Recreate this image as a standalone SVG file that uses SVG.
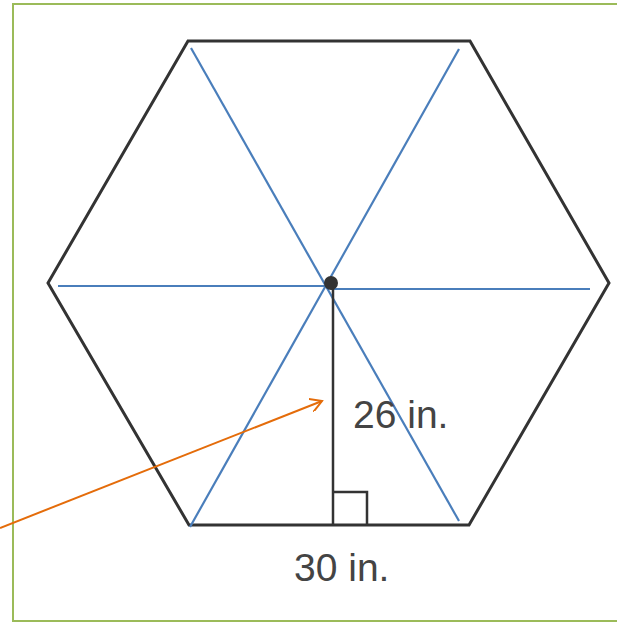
<svg xmlns="http://www.w3.org/2000/svg" width="617" height="622" viewBox="0 0 617 622">
<defs>
<style>
.hex{fill:none;stroke:#333;stroke-width:3;stroke-linejoin:miter}
.blue{stroke:#4a7ebb;stroke-width:2.2;fill:none}
.blk{stroke:#333;stroke-width:2.5;fill:none}
.lbl{font-family:"Liberation Sans",Arial,sans-serif;font-size:39px;fill:#444}
</style>
<marker id="open" markerWidth="14" markerHeight="14" refX="12" refY="7" orient="auto" markerUnits="userSpaceOnUse">
<path d="M0,0 L12,7 L0,14" fill="none" stroke="#e46c0a" stroke-width="2"/>
</marker>
</defs>
<rect x="13" y="4" width="610" height="617" fill="#fff" stroke="#9bbb59" stroke-width="2"/>
<g id="hexagon">
<polygon class="hex" points="188,41 470,41 609,283 469,525 189,525 48,283"/>
</g>
<g id="spokes">
<line class="blue" x1="191" y1="48" x2="459" y2="521"/>
<line class="blue" x1="459" y1="49" x2="190" y2="527"/>
<line class="blue" x1="58" y1="286" x2="331" y2="286"/>
<line class="blue" x1="331" y1="289" x2="590" y2="289"/>
</g>
<g id="height">
<line class="blk" x1="333" y1="288" x2="333" y2="525"/>
<polyline class="blk" points="332,492 367,492 367,525"/>
</g>
<g id="center">
<circle cx="331" cy="283" r="7" fill="#333"/>
</g>
<g id="connectors">
<line x1="0" y1="528" x2="322" y2="401" stroke="#e46c0a" stroke-width="2" marker-end="url(#open)"/>
</g>
<g id="labels">
<text class="lbl" x="353" y="428">26 in.</text>
<text class="lbl" x="294" y="581">30 in.</text>
</g>
</svg>
